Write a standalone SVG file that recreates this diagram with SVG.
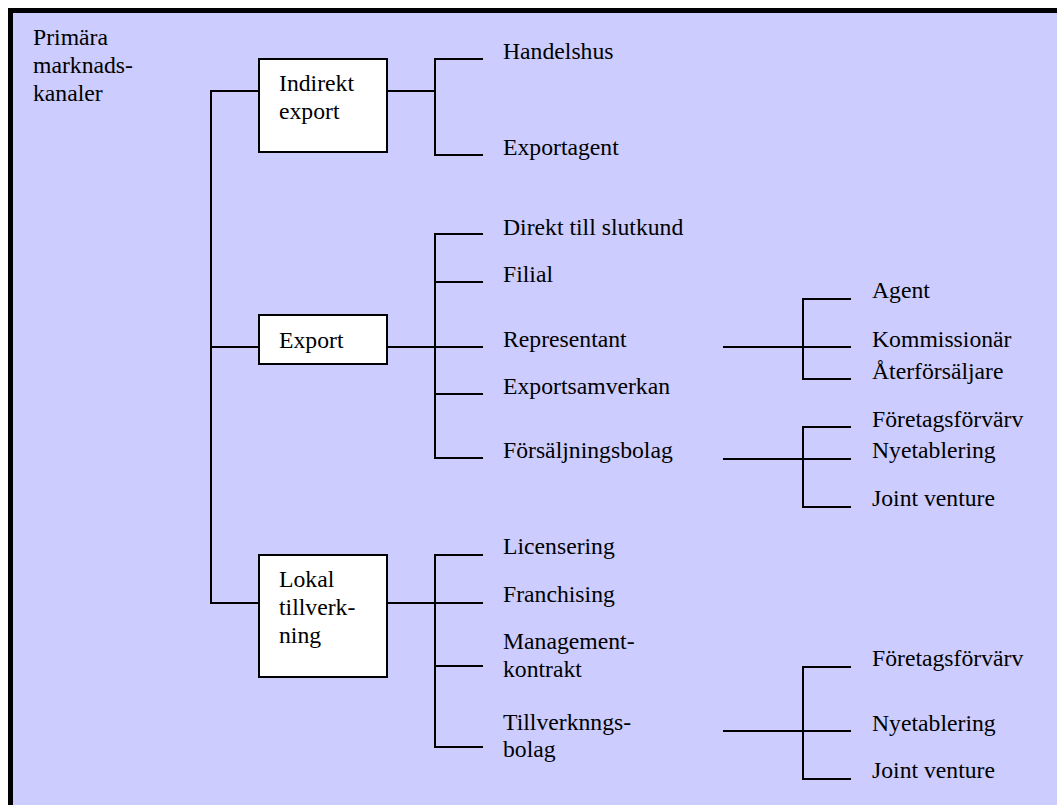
<svg xmlns="http://www.w3.org/2000/svg" width="1057" height="805" viewBox="0 0 1057 805">
  <style>
    text { font-family: "Liberation Serif", "Times New Roman", serif; font-size: 23.7px; fill: #000; }
    .box { fill: #fff; stroke: #000; stroke-width: 2; }
    .wire { fill: none; stroke: #000; stroke-width: 2; }
  </style>

  <!-- page background and frame -->
  <rect x="0" y="0" width="1057" height="805" fill="#fff"/>
  <rect x="8" y="8" width="1049" height="797" fill="#ccccff"/>
  <rect x="8" y="8" width="1049" height="5" fill="#000"/>
  <rect x="8" y="8" width="5" height="797" fill="#000"/>

  <!-- connectors -->
  <g id="connectors" class="wire">
    <!-- trunk to the three main channels -->
    <path d="M259 91 H211 V603 H259 M211 347 H259"/>
    <!-- Indirekt export branches -->
    <path d="M387 91 H435 M483 59 H435 V155 H483"/>
    <!-- Export branches -->
    <path d="M387 347 H435 M483 234 H435 V458 H483 M435 282 H483 M435 347 H483 M435 394 H483"/>
    <!-- Lokal tillverkning branches -->
    <path d="M387 603 H435 M483 555 H435 V747 H483 M435 603 H483 M435 666 H483"/>
    <!-- Representant sub-branches -->
    <path d="M723 347 H851 M851 299 H803 V379 H851"/>
    <!-- Försäljningsbolag sub-branches -->
    <path d="M723 459 H851 M851 427 H803 V507 H851"/>
    <!-- Tillverkningsbolag sub-branches -->
    <path d="M723 731 H851 M851 667 H803 V779 H851"/>
  </g>

  <!-- title -->
  <g id="title">
    <text x="33" y="45">Primära</text>
    <text x="33" y="73">marknads-</text>
    <text x="33" y="101">kanaler</text>
  </g>

  <!-- main channels -->
  <g id="node-indirekt-export">
    <rect class="box" x="259" y="59" width="128" height="93"/>
    <text x="279" y="91">Indirekt</text>
    <text x="279" y="119">export</text>
  </g>
  <g id="node-export">
    <rect class="box" x="259" y="315" width="128" height="49"/>
    <text x="279" y="348">Export</text>
  </g>
  <g id="node-lokal-tillverkning">
    <rect class="box" x="259" y="555" width="128" height="122"/>
    <text x="279" y="587">Lokal</text>
    <text x="279" y="615">tillverk-</text>
    <text x="279" y="643">ning</text>
  </g>

  <!-- indirect export forms -->
  <g id="node-handelshus"><text x="503" y="59">Handelshus</text></g>
  <g id="node-exportagent"><text x="503" y="155">Exportagent</text></g>

  <!-- export forms -->
  <g id="node-direkt"><text x="503" y="235">Direkt till slutkund</text></g>
  <g id="node-filial"><text x="503" y="282">Filial</text></g>
  <g id="node-representant"><text x="503" y="347">Representant</text></g>
  <g id="node-exportsamverkan"><text x="503" y="394">Exportsamverkan</text></g>
  <g id="node-forsaljningsbolag"><text x="503" y="458">Försäljningsbolag</text></g>

  <!-- representative types -->
  <g id="node-agent"><text x="872" y="298">Agent</text></g>
  <g id="node-kommissionar"><text x="872" y="347">Kommissionär</text></g>
  <g id="node-aterforsaljare"><text x="872" y="379">Återförsäljare</text></g>

  <!-- sales company forms -->
  <g id="node-foretagsforvarv-1"><text x="872" y="427">Företagsförvärv</text></g>
  <g id="node-nyetablering-1"><text x="872" y="458">Nyetablering</text></g>
  <g id="node-joint-venture-1"><text x="872" y="506">Joint venture</text></g>

  <!-- local manufacturing forms -->
  <g id="node-licensering"><text x="503" y="554">Licensering</text></g>
  <g id="node-franchising"><text x="503" y="602">Franchising</text></g>
  <g id="node-management">
    <text x="503" y="649">Management-</text>
    <text x="503" y="677">kontrakt</text>
  </g>
  <g id="node-tillverkningsbolag">
    <text x="503" y="730">Tillverknngs-</text>
    <text x="503" y="757">bolag</text>
  </g>

  <!-- manufacturing company forms -->
  <g id="node-foretagsforvarv-2"><text x="872" y="666">Företagsförvärv</text></g>
  <g id="node-nyetablering-2"><text x="872" y="731">Nyetablering</text></g>
  <g id="node-joint-venture-2"><text x="872" y="778">Joint venture</text></g>
</svg>
